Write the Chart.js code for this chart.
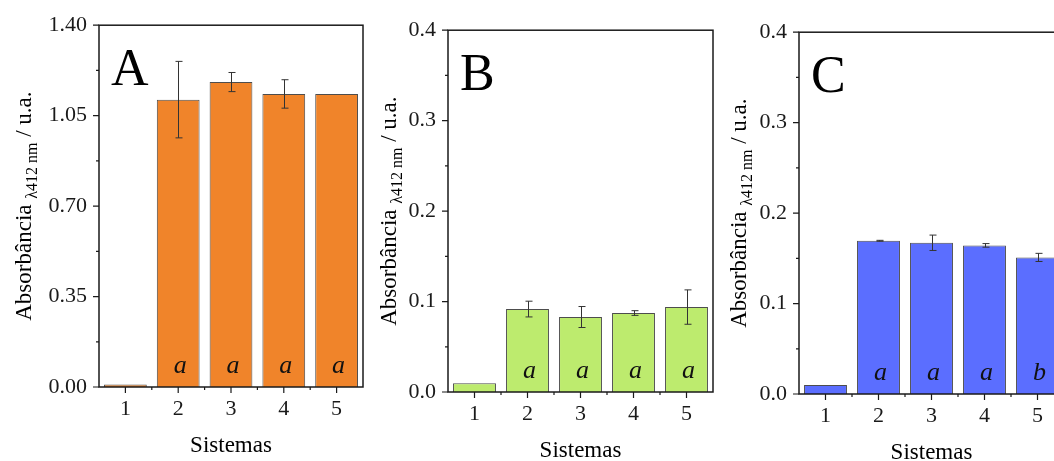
<!DOCTYPE html>
<html>
<head>
<meta charset="utf-8">
<script src="https://cdn.jsdelivr.net/npm/chart.js@4.4.1/dist/chart.umd.min.js"></script>
<style>
  html, body { margin: 0; padding: 0; background: #fff; overflow: hidden; }
  #wrap { position: relative; width: 1054px; height: 461px; overflow: hidden; }
  .panel { position: absolute; width: 370px; height: 461px; }
</style>
</head>
<body>
<div id="wrap">
  <div class="panel" style="left:0px;top:0px"><canvas id="chart-a"></canvas></div>
  <div class="panel" style="left:365px;top:5px"><canvas id="chart-b"></canvas></div>
  <div class="panel" style="left:715px;top:7px"><canvas id="chart-c"></canvas></div>
</div>
<script>
const sistemas = ['1', '2', '3', '4', '5'];

// panel A
const absA = [0.010, 1.112, 1.180, 1.134, 1.134];
const errA = [0, 0.148, 0.037, 0.055, 0];
const letrasA = ['', 'a', 'a', 'a', 'a'];
const ticksA = [0, 0.35, 0.70, 1.05, 1.40];

// panel B
const absB = [0.0096, 0.0917, 0.0829, 0.0873, 0.0939];
const errB = [0, 0.0087, 0.0116, 0.0026, 0.019];
const letrasB = ['', 'a', 'a', 'a', 'a'];
const ticksB = [0, 0.1, 0.2, 0.3, 0.4];

// panel C
const absC = [0.0099, 0.1694, 0.1672, 0.1643, 0.151];
const errC = [0, 0.0005, 0.0085, 0.002, 0.0045];
const letrasC = ['', 'a', 'a', 'a', 'b'];
const ticksC = [0, 0.1, 0.2, 0.3, 0.4];

const serif = '"Liberation Serif", "Times New Roman", serif';
const ink = '#1a1a1a';

// frame, tick marks, error bars, letters and axis titles
const decorPlugin = {
  id: 'decor',
  afterDatasetsDraw(chart) {
    const o = chart.options.plugins.decor;
    const ctx = chart.ctx;
    const area = chart.chartArea;
    const xs = chart.scales.x;
    const ys = chart.scales.y;
    const bars = chart.getDatasetMeta(0).data;

    ctx.save();

    // error bars
    ctx.strokeStyle = '#333';
    ctx.lineWidth = 1;
    bars.forEach((bar, i) => {
      const e = o.err[i];
      if (!e) return;
      const v = o.values[i];
      const yTop = ys.getPixelForValue(v + e);
      const yBot = ys.getPixelForValue(v - e);
      const x = Math.round(bar.x) + 0.5;
      ctx.beginPath();
      ctx.moveTo(x, yTop); ctx.lineTo(x, yBot);
      ctx.moveTo(x - 3, yTop); ctx.lineTo(x + 4, yTop);
      ctx.moveTo(x - 3, yBot); ctx.lineTo(x + 4, yBot);
      ctx.stroke();
    });

    // significance letters
    ctx.fillStyle = '#111';
    ctx.font = 'italic 26px ' + serif;
    ctx.textAlign = 'center';
    ctx.textBaseline = 'alphabetic';
    bars.forEach((bar, i) => {
      if (o.letters[i]) ctx.fillText(o.letters[i], bar.x + 2, area.bottom - 14);
    });

    // box
    ctx.strokeStyle = ink;
    ctx.lineWidth = 1.5;
    ctx.strokeRect(area.left, area.top, area.right - area.left, area.bottom - area.top);

    // y ticks, major + minor
    ctx.lineWidth = 1.2;
    ctx.beginPath();
    for (let i = 0; i < o.yTicks.length; i++) {
      const y = ys.getPixelForValue(o.yTicks[i]);
      ctx.moveTo(area.left, y); ctx.lineTo(area.left - 6, y);
      if (i < o.yTicks.length - 1) {
        const ym = ys.getPixelForValue((o.yTicks[i] + o.yTicks[i + 1]) / 2);
        ctx.moveTo(area.left, ym); ctx.lineTo(area.left - 3, ym);
      }
    }
    // x ticks at categories, minor ticks between them
    for (let i = 0; i < sistemas.length; i++) {
      const x = xs.getPixelForValue(i);
      ctx.moveTo(x, area.bottom); ctx.lineTo(x, area.bottom + 6);
      if (i < sistemas.length - 1) {
        const xm = xs.getPixelForValue(i + 0.5);
        ctx.moveTo(xm, area.bottom); ctx.lineTo(xm, area.bottom + 3);
      }
    }
    ctx.stroke();

    // panel letter
    ctx.fillStyle = '#000';
    ctx.font = '52px ' + serif;
    ctx.textAlign = 'left';
    ctx.fillText(o.panel, area.left + 12, area.top + 60);

    // x title
    ctx.font = '23px ' + serif;
    ctx.textAlign = 'center';
    ctx.fillText('Sistemas', (area.left + area.right) / 2, area.bottom + 65);

    // y title with subscript
    const main1 = 'Absorbância ';
    const sub = 'λ412 nm';
    const main2 = ' / u.a.';
    ctx.font = '23px ' + serif;
    const w1 = ctx.measureText(main1).width;
    const w3 = ctx.measureText(main2).width;
    ctx.font = '16px ' + serif;
    const w2 = ctx.measureText(sub).width;
    const total = w1 + w2 + w3;
    ctx.translate(31, (area.top + area.bottom) / 2);
    ctx.rotate(-Math.PI / 2);
    ctx.textAlign = 'left';
    ctx.font = '23px ' + serif;
    ctx.fillText(main1, -total / 2, 0);
    ctx.font = '16px ' + serif;
    ctx.fillText(sub, -total / 2 + w1, 6);
    ctx.font = '23px ' + serif;
    ctx.fillText(main2, -total / 2 + w1 + w2, 0);

    ctx.restore();
  }
};

const makePanel = (canvasId, cfg) => {
  const ctx = document.getElementById(canvasId).getContext('2d');
  return new Chart(ctx, {
    type: 'bar',
    data: {
      labels: sistemas,
      datasets: [{
        data: cfg.values,
        backgroundColor: cfg.color,
        borderColor: '#4d4d4d',
        borderWidth: 1,
        categoryPercentage: 1,
        barPercentage: 0.81
      }]
    },
    options: {
      responsive: true,
      maintainAspectRatio: false,
      animation: false,
      layout: { padding: { top: 24, right: cfg.padRight, left: 0, bottom: 0 } },
      plugins: {
        legend: { display: false },
        tooltip: { enabled: false },
        decor: {
          values: cfg.values,
          err: cfg.err,
          letters: cfg.letters,
          yTicks: cfg.yTicks,
          panel: cfg.panel
        }
      },
      scales: {
        x: {
          grid: { display: false, drawTicks: false },
          border: { display: false },
          ticks: { color: ink, padding: 9, font: { family: serif, size: 22 } },
          afterFit: (scale) => { scale.height = 74; }
        },
        y: {
          min: cfg.yTicks[0],
          max: cfg.yTicks[cfg.yTicks.length - 1],
          grid: { display: false, drawTicks: false },
          border: { display: false },
          afterBuildTicks: (scale) => { scale.ticks = cfg.yTicks.map(v => ({ value: v })); },
          ticks: {
            color: ink,
            padding: 12,
            font: { family: serif, size: 22 },
            callback: (v) => v.toFixed(cfg.decimals)
          },
          afterFit: (scale) => { scale.width = cfg.axisW; }
        }
      }
    },
    plugins: [decorPlugin]
  });
};

makePanel('chart-a', {
  values: absA, err: errA, letters: letrasA, yTicks: ticksA,
  color: '#F0842A', panel: 'A', decimals: 2, axisW: 99, padRight: 7
});
makePanel('chart-b', {
  values: absB, err: errB, letters: letrasB, yTicks: ticksB,
  color: '#BDEB6E', panel: 'B', decimals: 1, axisW: 83, padRight: 22
});
makePanel('chart-c', {
  values: absC, err: errC, letters: letrasC, yTicks: ticksC,
  color: '#5B6EFF', panel: 'C', decimals: 1, axisW: 84, padRight: 21
});
</script>
</body>
</html>
